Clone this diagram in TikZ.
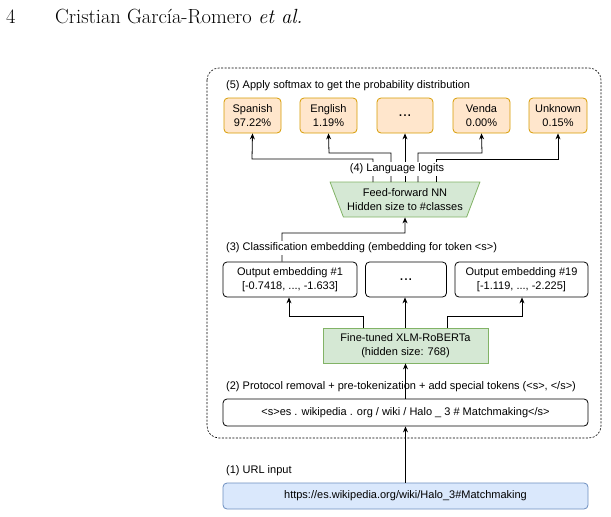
\documentclass[tikz,border=0pt]{standalone}
\usepackage{fontspec}
\newfontfamily\dsans{Liberation Sans}
\usetikzlibrary{shapes.geometric,arrows.meta}
\definecolor{ofill}{HTML}{FFE6CC}\definecolor{oline}{HTML}{D79B00}
\definecolor{gfill}{HTML}{D5E8D4}\definecolor{gline}{HTML}{82B366}
\definecolor{bfill}{HTML}{DAE8FC}\definecolor{bline}{HTML}{6C8EBF}
\begin{document}
\begin{tikzpicture}[x=1pt,y=-1pt,
 every node/.style={font=\dsans\fontsize{11}{13.5}\selectfont,inner sep=0pt},
 box/.style={draw,rounded corners=4pt,align=center,line width=0.8pt},
 obox/.style={box,fill=ofill,draw=oline},
 lbl/.style={anchor=west,fill=white,inner xsep=0pt,inner ysep=1.5pt},
 dots/.style={font=\dsans\fontsize{16}{16}\selectfont},
 hdr/.style={anchor=base west,font=\fontsize{20.5}{23}\selectfont},
 arr/.style={-{Stealth[length=6pt,width=5pt]},line width=0.8pt}]
\useasboundingbox (0,0) rectangle (611,517);
\node[hdr] (pg) at (6,23) {4};
\node[hdr] (au) at (55,23) {Cristian García-Romero \textit{et al.}};
\draw[dash pattern=on 2pt off 1.5pt,rounded corners=12pt,line width=0.6pt] (207,68) rectangle (601,438);
\node[lbl] (t5) at (226,86) {(5) Apply softmax to get the probability distribution};
\node[obox,minimum width=57pt,minimum height=35pt] (sp) at (252.5,115.5) {Spanish\\97.22\%};
\node[obox,minimum width=57pt,minimum height=35pt] (en) at (328.5,115.5) {English\\1.19\%};
\node[obox,minimum width=56pt,minimum height=35pt,dots] (dd) at (405,115.5) {...};
\node[obox,minimum width=57pt,minimum height=35pt] (ve) at (481.5,115.5) {Venda\\0.00\%};
\node[obox,minimum width=58pt,minimum height=35pt] (un) at (558,115.5) {Unknown\\0.15\%};
\node[trapezium,trapezium stretches=true,draw=gline,fill=gfill,line width=0.8pt,align=center,minimum width=150pt,minimum height=35pt,shape border rotate=180] (ff) at (405,199.5) {Feed-forward NN\\Hidden size to \#classes};
\coordinate (s1) at (373,182);\coordinate (s2) at (391,182);\coordinate (s3) at (405,182);
\coordinate (s4) at (418,182);\coordinate (s5) at (436,182);
\draw[arr] (s1) |- (252,159) -- (sp.south);
\draw[arr] (s2) |- (329,153) -- (en.south);
\draw[arr] (s3) -- (dd.south);
\draw[arr] (s4) |- (482,153) -- (ve.south);
\draw[arr] (s5) |- (558,159) -- (un.south);
\node[fill=white,inner sep=1.5pt] (t4) at (397,169) {(4) Language logits};
\node[box,minimum width=134pt,minimum height=35pt] (e1) at (290,279.5) {Output embedding \#1\\{[}-0.7418, ..., -1.633{]}};
\node[box,minimum width=81pt,minimum height=35pt,dots] (e2) at (406,279.5) {...};
\node[box,minimum width=133pt,minimum height=35pt] (e3) at (521.5,279.5) {Output embedding \#19\\{[}-1.119, ..., -2.225{]}};
\draw[arr] (e1.north -| 282,0) |- (405,233) -- (ff.south);
\node[lbl] (t3) at (226,248) {(3) Classification embedding (embedding for token <s>)};
\node[box,rounded corners=0pt,draw=gline,fill=gfill,minimum width=165pt,minimum height=35pt] (xl) at (405.5,345.5) {Fine-tuned XLM-RoBERTa\\(hidden size: 768)};
\draw[arr] (xl.north -| 363,0) |- (289,316) -- (e1.south -| 289,0);
\draw[arr] (xl.north -| 405,0) -- (e2.south -| 405,0);
\draw[arr] (xl.north -| 447,0) |- (522,316) -- (e3.south -| 522,0);
\node[lbl] (t2) at (226,387) {(2) Protocol removal + pre-tokenization + add special tokens (<s>, </s>)};
\node[box,minimum width=365pt,minimum height=27pt] (tk) at (405.5,412.5) {<s>es . wikipedia . org / wiki / Halo \_ 3 \# Matchmaking</s>};
\draw[arr] (tk.north -| xl.south) -- (xl.south);
\node[lbl] (t1) at (226,471) {(1) URL input};
\node[box,draw=bline,fill=bfill,minimum width=365pt,minimum height=26pt] (url) at (405.5,496) {https://es.wikipedia.org/wiki/Halo\_3\#Matchmaking};
\draw[arr] (url.north) -- (tk.south);
\end{tikzpicture}
\end{document}
